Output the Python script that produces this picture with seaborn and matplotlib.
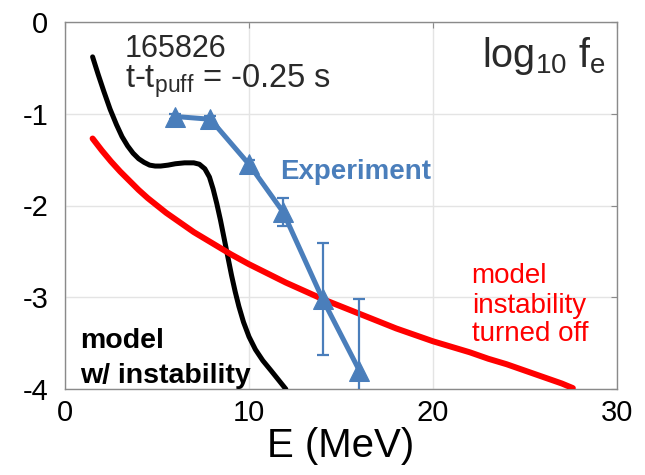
import matplotlib
matplotlib.use("Agg")
import matplotlib.pyplot as plt
import seaborn as sns
import pandas as pd

# ---- data ----
black_E = [1.5, 1.8, 2.1, 2.45, 2.8, 3.1, 3.4, 3.7, 4.0, 4.3, 4.6, 4.9, 5.2, 5.6,
           6.0, 6.5, 7.0, 7.3, 7.6, 7.85, 8.05, 8.25, 8.45, 8.65, 8.85, 9.05,
           9.25, 9.45, 9.7, 10.0, 10.35, 10.75, 11.2, 11.6, 12.0]
black_f = [-0.38, -0.57, -0.75, -0.95, -1.12, -1.25, -1.35, -1.43, -1.49, -1.53,
           -1.56, -1.57, -1.57, -1.56, -1.545, -1.535, -1.535, -1.55, -1.60,
           -1.69, -1.82, -1.98, -2.16, -2.36, -2.56, -2.76, -2.94, -3.10, -3.27,
           -3.43, -3.57, -3.69, -3.80, -3.90, -4.0]

red_E = [1.5, 2.0, 2.5, 3.0, 3.5, 4.0, 4.5, 5.0, 5.5, 6.0, 6.5, 7.0, 8.0, 9.0,
         10.0, 11.0, 12.0, 13.0, 14.0, 15.0, 16.0, 17.0, 18.0, 19.0, 20.0, 21.0,
         22.0, 23.0, 24.0, 25.0, 26.0, 27.0, 27.6]
red_f = [-1.27, -1.40, -1.52, -1.63, -1.73, -1.83, -1.92, -2.00, -2.08, -2.15,
         -2.22, -2.29, -2.41, -2.53, -2.64, -2.74, -2.84, -2.93, -3.02, -3.10,
         -3.18, -3.26, -3.34, -3.41, -3.48, -3.54, -3.60, -3.67, -3.73, -3.80,
         -3.87, -3.94, -3.99]

exp_E = [6.0, 7.9, 10.0, 11.85, 14.0, 16.0]
exp_f = [-1.03, -1.06, -1.55, -2.07, -3.02, -3.80]
exp_err = [0.03, 0.04, 0.05, 0.15, 0.61, 0.78]

x_ticks = [0, 10, 20, 30]
y_ticks = [0, -1, -2, -3, -4]

BLUE = "#4a7ebb"

sns.set_style("white")
plt.rcParams["font.family"] = ["Liberation Sans", "DejaVu Sans"]
plt.rcParams["mathtext.fontset"] = "custom"
plt.rcParams["mathtext.rm"] = "Liberation Sans"
plt.rcParams["mathtext.it"] = "Liberation Sans:italic"
plt.rcParams["mathtext.default"] = "regular"
plt.rcParams["axes.unicode_minus"] = False

fig = plt.figure(figsize=(6.45, 4.75), dpi=100)
ax = fig.add_axes([65 / 645, 1 - 389 / 475, (617 - 65) / 645, (389 - 22) / 475])

black_df = pd.DataFrame({"E": black_E, "f": black_f})
red_df = pd.DataFrame({"E": red_E, "f": red_f})
exp_df = pd.DataFrame({"E": exp_E, "f": exp_f, "err": exp_err})

sns.lineplot(data=black_df, x="E", y="f", color="black", linewidth=3.6,
             sort=False, ax=ax, zorder=3)
sns.lineplot(data=red_df, x="E", y="f", color="#ff0000", linewidth=4.3,
             sort=False, ax=ax, zorder=4)
ax.errorbar(exp_df["E"], exp_df["f"], yerr=exp_df["err"], fmt="none",
            ecolor=BLUE, elinewidth=1.6, capsize=4.6, capthick=1.6, zorder=5)
sns.lineplot(data=exp_df, x="E", y="f", color=BLUE, linewidth=3.6,
             marker="^", markersize=15, markeredgecolor=BLUE,
             sort=False, ax=ax, zorder=6)

ax.set_xlim(0, 30)
ax.set_ylim(-4, 0)
ax.set_xticks(x_ticks)
ax.set_yticks(y_ticks)
ax.grid(True, color="#e4e4e4", linewidth=1.0)
ax.set_axisbelow(True)
for s in ax.spines.values():
    s.set_color("#8a8a8a")
    s.set_linewidth(1.0)
ax.tick_params(direction="in", length=4, width=0.8, color="#8a8a8a",
               top=True, right=True, labelsize=21, labelcolor="black")
ax.tick_params(axis="x", pad=7)
ax.tick_params(axis="y", pad=12)
ax.set_xlabel("E (MeV)", fontsize=29, labelpad=0, color="black")
ax.set_ylabel("")

tc = "#2a2a2a"
ax.text(3.25, -0.38, "165826", fontsize=22, color=tc, ha="left", va="baseline")
ax.text(3.25, -0.71, "t-t$_{puff}$ = -0.25 s", fontsize=23.5, color=tc,
        ha="left", va="baseline")
ax.text(29.4, -0.49, "log$_{10}$ f$_{e}$", fontsize=28.5, color=tc,
        ha="right", va="baseline")
ax.text(11.7, -1.64, "Experiment", fontsize=20, color=BLUE, fontweight="bold",
        ha="left", va="center")
ax.text(0.8, -3.55, "model", fontsize=20.5, color="black", fontweight="bold",
        ha="left", va="baseline")
ax.text(0.8, -3.93, "w/ instability", fontsize=20.5, color="black",
        fontweight="bold", ha="left", va="baseline")
ax.text(22.1, -2.84, "model", fontsize=20, color="#ff0000", ha="left", va="baseline")
ax.text(22.1, -3.17, "instability", fontsize=20, color="#ff0000", ha="left", va="baseline")
ax.text(22.1, -3.48, "turned off", fontsize=20, color="#ff0000", ha="left", va="baseline")

fig.savefig("out.png", dpi=100)
